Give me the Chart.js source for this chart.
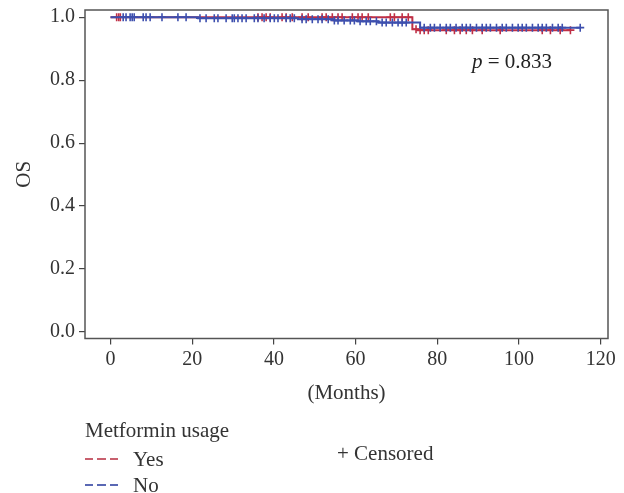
<!DOCTYPE html>
<html>
<head>
<meta charset="utf-8">
<script src="https://cdn.jsdelivr.net/npm/chart.js@4.4.0/dist/chart.umd.min.js"></script>
<style>
  body { margin: 0; background: #fff; }
  #wrap { position: relative; width: 624px; height: 493px; font-family: "Liberation Serif", "DejaVu Serif", serif; color: #333; }
  .lg { position: absolute; font-size: 21px; line-height: 26px; height: 26px; display: flex; align-items: center; white-space: nowrap; }
  .dash { width: 33px; height: 1.5px; margin-right: 15px; }
</style>
</head>
<body>
<div id="wrap">
  <canvas id="kmChart" width="624" height="493"></canvas>
  <div class="lg" style="left:85px; top:417px">Metformin usage</div>
  <div class="lg" style="left:85px; top:446px"><span class="dash" style="background:repeating-linear-gradient(90deg,#c8606e 0 8px,transparent 8px 12.5px)"></span>Yes</div>
  <div class="lg" style="left:85px; top:472px"><span class="dash" style="background:repeating-linear-gradient(90deg,#5a68b4 0 8px,transparent 8px 12.5px)"></span>No</div>
  <div class="lg" style="left:337px; top:440px">+ Censored</div>
</div>
<script>
// KM step points (months, survival)
const yesTimes = [0, 73.9, 75.3, 112.6];
const yesSurv = [1.0, 0.962, 0.959, 0.959];
const noTimes = [0, 21.4, 45.9, 54.8, 60.6, 65.5, 75.8, 115.0];
const noSurv = [1.0, 0.997, 0.994, 0.99, 0.987, 0.983, 0.967, 0.967];

// censored times
const yesCensored = [1.5, 2.0, 2.4, 36.1, 37.1, 38.1, 39.1, 42.0, 43.0, 44.5, 46.9, 48.4, 51.8,
  52.8, 54.3, 55.7, 56.7, 59.2, 60.6, 61.6, 63.1, 68.5, 69.5, 71.4, 72.9, 74.8, 75.8, 76.8,
  77.8, 82.2, 84.2, 85.6, 87.1, 88.6, 91.0, 95.4, 105.7, 107.7, 110.1, 112.6];
const noCensored = [3.1, 3.8, 4.8, 5.3, 5.8, 8.0, 8.7, 9.7, 12.6, 16.5, 18.5, 21.9, 23.4, 25.4,
  26.3, 28.3, 29.8, 30.3, 31.2, 32.2, 33.2, 35.2, 36.1, 37.6, 39.1, 40.1, 41.0, 43.0, 44.0,
  45.0, 46.9, 47.9, 49.4, 50.8, 51.8, 53.3, 54.8, 55.7, 57.2, 58.7, 59.7, 61.1, 62.6, 63.6,
  65.1, 66.5, 67.5, 69.0, 70.4, 71.4, 72.4, 76.8, 78.3, 79.3, 80.7, 82.2, 83.2, 84.6, 86.1,
  87.1, 88.1, 89.6, 91.0, 92.0, 93.0, 94.5, 95.9, 96.9, 98.4, 99.8, 100.8, 101.8, 103.3,
  104.7, 105.7, 106.7, 108.2, 109.6, 110.6, 115.0];

const xTicks = [0, 20, 40, 60, 80, 100, 120];
const yTicks = [0, 0.2, 0.4, 0.6, 0.8, 1.0];

function survAt(times, surv, t) {
  let s = surv[0];
  for (let i = 0; i < times.length; i++) { if (times[i] <= t) s = surv[i]; }
  return s;
}
const pts = (xs, ys) => xs.map((x, i) => ({ x: x, y: ys[i] }));
const cens = (c, times, surv) => c.map(t => ({ x: t, y: survAt(times, surv, t) }));

const RED = '#bf2f45';
const BLUE = '#3d4fae';
const FONT = "'Liberation Serif', 'DejaVu Serif', serif";

const frame = {
  id: 'frame',
  afterDraw(chart) {
    const { ctx, chartArea: a, scales } = chart;
    ctx.save();
    ctx.strokeStyle = '#555';
    ctx.lineWidth = 1.5;
    ctx.strokeRect(a.left, a.top, a.right - a.left, a.bottom - a.top);
    // p value
    const px = scales.x.getPixelForValue(88.5);
    const py = scales.y.getPixelForValue(0.855);
    ctx.fillStyle = '#222';
    ctx.textBaseline = 'middle';
    ctx.font = 'italic 21px ' + FONT;
    ctx.fillText('p', px, py);
    const w = ctx.measureText('p').width;
    ctx.font = '21px ' + FONT;
    ctx.fillText(' = 0.833', px + w, py);
    ctx.restore();
  }
};

new Chart(document.getElementById('kmChart'), {
  type: 'scatter',
  data: {
    datasets: [
      { label: 'No censored', data: cens(noCensored, noTimes, noSurv), pointStyle: 'cross',
        radius: 4, borderColor: BLUE, borderWidth: 1.6, showLine: false, order: 1 },
      { label: 'No', data: pts(noTimes, noSurv), showLine: true, stepped: 'before',
        borderColor: BLUE, borderWidth: 2, pointRadius: 0, order: 2 },
      { label: 'Yes censored', data: cens(yesCensored, yesTimes, yesSurv), pointStyle: 'cross',
        radius: 4, borderColor: RED, borderWidth: 1.6, showLine: false, order: 3 },
      { label: 'Yes', data: pts(yesTimes, yesSurv), showLine: true, stepped: 'before',
        borderColor: RED, borderWidth: 2, pointRadius: 0, order: 4 }
    ]
  },
  options: {
    responsive: false,
    animation: false,
    devicePixelRatio: 1,
    layout: { padding: { top: 10, right: 16, bottom: 86.5, left: 0 } },
    plugins: { legend: { display: false }, tooltip: { enabled: false } },
    scales: {
      x: {
        type: 'linear', min: -6.25, max: 121.8,
        afterBuildTicks: s => { s.ticks = xTicks.map(v => ({ value: v })); },
        afterFit: s => { s.height = 68; s.paddingLeft = 0; s.paddingRight = 0; },
        grid: { drawOnChartArea: false, drawTicks: true, tickLength: 6, color: '#444', lineWidth: 1.2 },
        border: { display: false },
        ticks: { color: '#333', font: { family: FONT, size: 20 }, padding: 3, maxRotation: 0 },
        title: { display: true, text: '(Months)', color: '#333', font: { family: FONT, size: 21 }, padding: { top: 4, bottom: 0 } }
      },
      y: {
        type: 'linear', min: -0.0207, max: 1.023,
        afterBuildTicks: s => { s.ticks = yTicks.map(v => ({ value: v })); },
        afterFit: s => { s.width = 85; s.paddingTop = 0; s.paddingBottom = 0; },
        grid: { drawOnChartArea: false, drawTicks: true, tickLength: 6, color: '#444', lineWidth: 1.2 },
        border: { display: false },
        ticks: { color: '#333', font: { family: FONT, size: 20 }, padding: 4, callback: v => v.toFixed(1) },
        title: { display: true, text: 'OS', color: '#333', font: { family: FONT, size: 21 }, padding: { top: 12, bottom: 0 } }
      }
    }
  },
  plugins: [frame]
});
</script>
</body>
</html>
